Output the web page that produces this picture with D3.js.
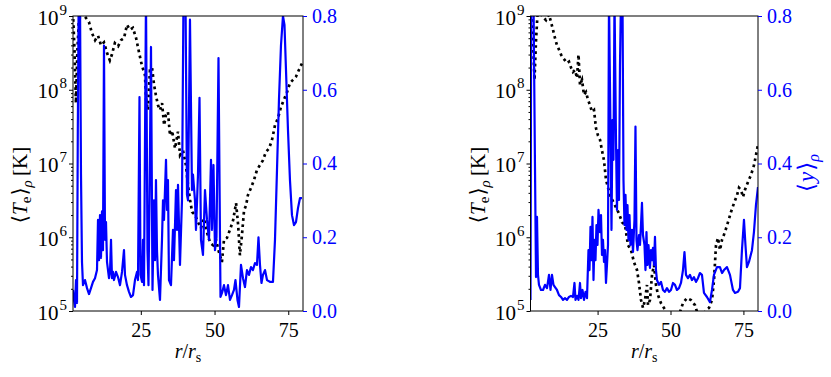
<!DOCTYPE html>
<html><head><meta charset="utf-8">
<script src="https://cdn.jsdelivr.net/npm/d3@7"></script>
<style>body{margin:0;background:#fff;} svg{display:block;}</style>
</head><body><svg id="c" width="831" height="377"></svg>
<script>
// ---------- data ----------
const rDomain = [2, 80];
const tDomain = [1e5, 1e9];
const yDomain = [0, 0.8];
const xTicks = [25, 50, 75];
const tTickExps = [5, 6, 7, 8, 9];
const yTicks = [0.0, 0.2, 0.4, 0.6, 0.8];

// left panel: <T_e>_rho  [r/r_s, K]
const leftTemp = [[2.0,1.1e9],[2.5,3.5e8],[3.0,6.6e7],[3.5,3.5e8],[4.0,8.8e8],[5.1,1.1e9],[6.4,9.4e8],[7.4,8.3e8],[8.4,5.9e8],[9.5,4.7e8],[10.5,5.4e8],[11.5,4.0e8],[12.5,4.4e8],[13.5,3.2e8],[14.5,2.5e8],[15.2,3.0e8],[16.2,4.3e8],[17.3,3.9e8],[18.3,4.7e8],[19.3,5.0e8],[20.3,7.6e8],[21.3,6.5e8],[22.3,6.9e8],[23.4,5.0e8],[24.4,3.2e8],[25.4,2.1e8],[26.4,1.6e8],[26.8,7.3e7],[27.4,5.3e7],[28.1,1.85e8],[28.8,2.0e8],[29.5,1.16e8],[30.1,8.5e7],[30.8,6.2e7],[31.5,5.3e7],[32.2,6.6e7],[32.9,3.3e7],[33.5,4.5e7],[34.2,5.0e7],[34.9,2.4e7],[35.6,2.8e7],[36.6,1.6e7],[37.6,2.7e7],[38.3,1.3e7],[39.3,1.5e7],[40.3,9.5e6],[41.0,5.1e6],[41.7,3.2e6],[42.4,2.2e6],[43.4,2.0e6],[44.4,1.6e6],[45.4,1.33e6],[46.4,1.8e6],[47.4,1.18e6],[48.5,8.4e5],[49.5,7.8e5],[50.5,9.2e5],[51.5,6.3e5],[52.5,4.6e5],[53.2,9.2e5],[54.2,9.8e5],[55.2,1.25e6],[56.3,1.7e6],[57.3,2.9e6],[58.0,1.47e6],[58.6,5.7e5],[59.3,1.07e6],[60.0,2.3e6],[60.7,2.7e6],[61.3,3.7e6],[62.4,4.7e6],[63.4,6.0e6],[64.4,8.2e6],[65.4,9.5e6],[66.4,1.1e7],[67.4,1.43e7],[68.5,1.6e7],[69.5,2.1e7],[70.5,3.3e7],[71.5,4.1e7],[72.5,5.8e7],[73.5,7.3e7],[74.6,9.3e7],[75.6,1.24e8],[76.6,1.36e8],[77.6,1.5e8],[78.6,1.85e8],[79.7,2.3e8]];

// left panel: <y>_rho
const leftY = [[2.0,0.057],[2.34,0.030],[2.68,0.011],[3.02,0.084],[3.36,0.022],[3.63,0.49],[3.93,0.85],[4.37,0.85],[4.71,0.37],[5.05,0.133],[5.39,0.07],[6.07,0.084],[6.75,0.062],[7.43,0.046],[8.10,0.062],[8.78,0.079],[9.46,0.089],[10.14,0.111],[10.48,0.247],[10.82,0.138],[11.16,0.26],[11.49,0.144],[11.83,0.27],[12.17,0.165],[12.51,0.72],[12.85,0.193],[13.19,0.241],[13.53,0.133],[13.87,0.111],[14.21,0.089],[14.55,0.106],[14.89,0.193],[15.22,0.089],[15.56,0.106],[15.90,0.084],[16.58,0.106],[17.26,0.092],[17.94,0.07],[18.62,0.106],[19.29,0.165],[19.63,0.098],[20.31,0.07],[20.99,0.052],[21.67,0.038],[22.35,0.043],[23.02,0.084],[23.70,0.106],[24.04,0.084],[24.55,0.58],[24.89,0.098],[25.40,0.079],[25.74,0.193],[26.08,0.07],[26.75,0.85],[27.26,0.165],[27.60,0.07],[27.94,0.30],[28.45,0.716],[28.96,0.057],[29.47,0.30],[29.81,0.138],[30.14,0.355],[30.48,0.165],[30.82,0.098],[31.50,0.030],[32.18,0.193],[32.52,0.30],[32.86,0.247],[33.54,0.41],[33.87,0.274],[34.21,0.355],[34.55,0.084],[35.23,0.07],[35.91,0.22],[36.25,0.138],[36.93,0.328],[37.27,0.22],[37.61,0.342],[38.28,0.125],[38.96,0.30],[39.47,0.85],[40.15,0.85],[40.66,0.315],[41.0,0.30],[41.67,0.79],[42.35,0.328],[42.69,0.37],[43.37,0.30],[43.71,0.22],[44.39,0.37],[44.90,0.578],[45.40,0.193],[46.08,0.152],[46.76,0.328],[47.44,0.247],[48.12,0.193],[48.80,0.41],[49.13,0.22],[49.64,0.396],[50.15,0.165],[50.66,0.20],[51.34,0.686],[52.02,0.038],[52.53,0.049],[53.2,0.07],[53.88,0.043],[54.56,0.07],[55.24,0.030],[55.92,0.043],[56.59,0.057],[57.10,0.084],[57.78,0.030],[58.29,0.011],[58.97,0.125],[59.65,0.089],[60.32,0.065],[61.0,0.111],[61.68,0.098],[62.36,0.119],[63.04,0.111],[63.72,0.130],[64.39,0.125],[64.90,0.20],[65.41,0.125],[65.92,0.076],[66.43,0.098],[67.11,0.111],[67.79,0.084],[68.80,0.079],[69.82,0.079],[70.50,0.193],[71.18,0.382],[71.85,0.572],[72.53,0.72],[73.21,0.80],[73.72,0.776],[74.23,0.654],[74.91,0.49],[75.58,0.355],[76.26,0.26],[76.94,0.233],[77.62,0.241],[78.30,0.279],[78.97,0.306],[79.65,0.306]];

// right panel: <T_e>_rho
const rightTemp = [[2.17,1.1e9],[2.86,4.7e8],[3.37,1.36e8],[3.89,4.7e8],[4.40,1.05e9],[5.26,1.1e9],[6.29,9.7e8],[7.32,8.8e8],[8.34,1.05e9],[9.03,8.3e8],[9.71,6.5e8],[10.40,5.0e8],[11.08,4.0e8],[11.77,3.5e8],[12.46,3.0e8],[13.14,2.7e8],[13.83,2.5e8],[14.51,2.3e8],[15.20,2.4e8],[15.88,2.0e8],[16.57,1.74e8],[17.26,1.85e8],[17.94,1.44e8],[18.46,3.0e8],[18.97,1.16e8],[19.66,1.36e8],[20.34,8.5e7],[21.03,9.3e7],[21.72,7.3e7],[22.40,6.2e7],[23.09,5.0e7],[23.77,5.3e7],[24.46,3.0e7],[25.14,2.4e7],[25.83,2.1e7],[26.51,1.5e7],[27.20,1.1e7],[27.89,6.0e6],[29.26,3.7e6],[30.97,2.7e6],[32.34,2.1e6],[33.37,1.6e6],[34.40,1.47e6],[35.43,7.8e5],[36.46,6.7e5],[37.48,4.6e5],[38.51,3.6e5],[39.20,2.4e5],[39.89,1.41e5],[40.57,1.1e5],[41.26,1.41e5],[41.94,2.25e5],[42.29,1.2e5],[42.97,1.41e5],[43.66,3.1e5],[44.34,4.2e5],[45.03,2.25e5],[45.71,1.65e5],[46.74,1.28e5],[47.77,1.1e5],[48.80,9.4e4],[49.82,8.5e4],[51.54,8.0e4],[53.25,9.7e4],[54.28,1.28e5],[55.65,1.5e5],[57.02,1.41e5],[58.39,1.2e5],[59.77,8.0e4],[61.14,8.0e4],[62.17,1.03e5],[63.20,1.1e5],[64.23,1.41e5],[64.91,2.6e5],[65.60,7.8e5],[66.28,9.8e5],[66.97,6.7e5],[67.65,9.2e5],[68.68,1.18e6],[69.71,1.6e6],[70.74,2.2e6],[71.77,2.9e6],[72.80,3.7e6],[73.48,4.7e6],[74.17,4.4e6],[74.85,3.5e6],[75.54,4.4e6],[76.57,5.6e6],[77.60,7.0e6],[78.63,9.5e6],[79.31,1.3e7],[80.0,1.8e7]];

// right panel: <y>_rho
const rightY = [[2.00,0.030],[2.24,0.85],[3.03,0.85],[3.54,0.39],[3.89,0.092],[4.23,0.255],[4.57,0.098],[4.91,0.071],[5.60,0.057],[6.29,0.057],[6.97,0.071],[7.66,0.062],[8.34,0.098],[8.86,0.057],[9.37,0.098],[9.88,0.071],[10.40,0.065],[11.08,0.057],[11.77,0.043],[12.46,0.038],[13.14,0.030],[13.83,0.035],[14.51,0.030],[15.20,0.038],[15.88,0.041],[16.57,0.038],[17.08,0.076],[17.43,0.030],[17.94,0.041],[18.46,0.030],[18.97,0.076],[19.31,0.035],[19.83,0.057],[20.34,0.030],[20.85,0.052],[21.37,0.035],[21.88,0.165],[22.23,0.111],[22.57,0.228],[22.91,0.138],[23.25,0.255],[23.60,0.084],[23.94,0.193],[24.28,0.138],[24.62,0.233],[24.97,0.179],[25.31,0.274],[25.83,0.214],[26.17,0.260],[26.51,0.152],[26.85,0.193],[27.20,0.133],[27.54,0.165],[27.88,0.076],[28.22,0.125],[28.57,0.179],[28.91,0.85],[29.42,0.491],[29.77,0.220],[30.11,0.518],[30.45,0.410],[30.80,0.85],[31.31,0.464],[31.65,0.274],[32.00,0.436],[32.34,0.301],[32.68,0.667],[33.02,0.85],[33.54,0.85],[33.88,0.355],[34.22,0.233],[34.57,0.315],[34.91,0.220],[35.25,0.287],[35.59,0.193],[35.94,0.260],[36.28,0.179],[36.79,0.220],[37.14,0.160],[37.65,0.247],[37.99,0.50],[38.34,0.193],[38.68,0.165],[39.19,0.206],[39.54,0.179],[39.88,0.233],[40.22,0.293],[40.56,0.206],[41.08,0.179],[41.42,0.111],[41.76,0.214],[42.11,0.125],[42.45,0.179],[42.96,0.117],[43.31,0.165],[43.65,0.138],[43.99,0.171],[44.34,0.125],[44.68,0.201],[45.02,0.111],[45.36,0.084],[46.05,0.071],[46.74,0.079],[47.42,0.057],[48.11,0.052],[48.79,0.062],[49.48,0.052],[50.16,0.057],[50.85,0.076],[51.54,0.071],[52.22,0.057],[52.91,0.062],[53.59,0.076],[54.28,0.111],[54.79,0.160],[55.31,0.098],[55.99,0.089],[56.68,0.098],[57.36,0.084],[58.05,0.092],[58.73,0.079],[59.42,0.089],[60.10,0.103],[60.79,0.098],[61.48,0.049],[62.50,0.038],[63.53,0.024],[64.22,0.057],[64.90,0.098],[65.93,0.119],[66.96,0.119],[67.65,0.103],[68.33,0.111],[69.36,0.119],[70.39,0.098],[71.42,0.057],[72.10,0.049],[73.13,0.052],[73.82,0.062],[74.50,0.165],[75.19,0.247],[75.70,0.179],[76.21,0.119],[76.90,0.133],[77.93,0.165],[78.61,0.214],[79.30,0.287],[79.99,0.336]];

// ---------- drawing ----------
const FONT = '"Liberation Serif","DejaVu Serif",serif';
const BLUE = "#0000ff";
const TOP = 16, BOTTOM = 311;
const panels = [
  {x0: 73, x1: 303, temp: leftTemp, comp: leftY, showRightLabel: false},
  {x0: 530.5, x1: 758, temp: rightTemp, comp: rightY, showRightLabel: true}
];
const svg = d3.select("#c");
const defs = svg.append("defs");

panels.forEach((p, i) => {
  const x = d3.scaleLinear().domain(rDomain).range([p.x0, p.x1]);
  const yT = d3.scaleLog().domain(tDomain).range([BOTTOM, TOP]);
  const yC = d3.scaleLinear().domain(yDomain).range([BOTTOM, TOP]);
  const cid = "clip" + i;
  defs.append("clipPath").attr("id", cid).append("rect")
    .attr("x", p.x0).attr("y", TOP).attr("width", p.x1 - p.x0).attr("height", BOTTOM - TOP);

  const g = svg.append("g");
  const plot = g.append("g").attr("clip-path", `url(#${cid})`);
  plot.append("path").datum(p.temp)
    .attr("d", d3.line().x(d => x(d[0])).y(d => yT(d[1])))
    .attr("fill", "none").attr("stroke", "#000")
    .attr("stroke-width", 2.7).attr("stroke-dasharray", "2.7,3.5");
  plot.append("path").datum(p.comp)
    .attr("d", d3.line().x(d => x(d[0])).y(d => yC(d[1])))
    .attr("fill", "none").attr("stroke", BLUE)
    .attr("stroke-width", 2.2).attr("stroke-linejoin", "round");

  // frame
  g.append("rect").attr("x", p.x0).attr("y", TOP)
    .attr("width", p.x1 - p.x0).attr("height", BOTTOM - TOP)
    .attr("fill", "none").attr("stroke", "#000").attr("stroke-width", 1);

  // x axis
  const gx = g.append("g").attr("transform", `translate(0,${BOTTOM})`)
    .call(d3.axisBottom(x).tickValues(xTicks).tickSize(4).tickPadding(8));
  gx.select(".domain").remove();
  gx.attr("font-family", FONT).attr("font-size", 20);
  gx.selectAll("text").attr("fill", "#000");

  // left log axis: minor ticks
  const minor = [];
  for (let e = 5; e < 9; e++) for (let m = 2; m <= 9; m++) minor.push(m * Math.pow(10, e));
  const gm = g.append("g").attr("transform", `translate(${p.x0},0)`)
    .call(d3.axisLeft(yT).tickValues(minor).tickSize(2).tickFormat(""));
  gm.select(".domain").remove();
  // left log axis: major ticks
  const gl = g.append("g").attr("transform", `translate(${p.x0},0)`)
    .call(d3.axisLeft(yT).tickValues(tTickExps.map(e => Math.pow(10, e))).tickSize(4).tickFormat(""));
  gl.select(".domain").remove();
  gl.selectAll(".tick").each(function(d) {
    const t = d3.select(this).append("text")
      .attr("x", -6).attr("y", 8).attr("text-anchor", "end")
      .attr("font-family", FONT).attr("font-size", 21).attr("fill", "#000");
    t.append("tspan").text("10");
    t.append("tspan").attr("dx", 1).attr("dy", -10).attr("font-size", 15).text(Math.round(Math.log10(d)));
  });

  // right linear axis (blue)
  const gr = g.append("g").attr("transform", `translate(${p.x1},0)`)
    .call(d3.axisRight(yC).tickValues(yTicks).tickSize(4).tickPadding(5).tickFormat(d3.format(".1f")));
  gr.select(".domain").remove();
  gr.attr("font-family", FONT).attr("font-size", 20).attr("color", BLUE);

  // x label
  const xl = g.append("text").attr("x", (p.x0 + p.x1) / 2).attr("y", 358)
    .attr("text-anchor", "middle").attr("font-family", FONT).attr("font-size", 20).attr("fill", "#000");
  xl.append("tspan").attr("font-style", "italic").text("r");
  xl.append("tspan").text("/");
  xl.append("tspan").attr("font-style", "italic").text("r");
  xl.append("tspan").attr("dy", 4).attr("font-size", 14).text("s");

  // left y label
  const yl = g.append("text")
    .attr("transform", `translate(${p.x0 - 46},185) rotate(-90)`)
    .attr("text-anchor", "middle").attr("font-family", FONT).attr("font-size", 21).attr("fill", "#000");
  yl.append("tspan").text("\u27E8");
  yl.append("tspan").attr("font-style", "italic").text("T");
  yl.append("tspan").attr("dy", 4).attr("font-size", 15).text("e");
  yl.append("tspan").attr("dx", 1).attr("dy", -4).text("\u27E9");
  yl.append("tspan").attr("dy", 5).attr("font-size", 15).attr("font-style", "italic").text("\u03C1");
  yl.append("tspan").attr("dy", -5).text("\u2009[K]");

  // right y label
  if (p.showRightLabel) {
    const yr = g.append("text")
      .attr("transform", `translate(${p.x1 + 56},173) rotate(-90)`)
      .attr("text-anchor", "middle").attr("font-family", FONT).attr("font-size", 23).attr("fill", BLUE);
    yr.append("tspan").text("\u27E8");
    yr.append("tspan").attr("dx", 1).attr("font-style", "italic").text("y");
    yr.append("tspan").attr("dx", 1).text("\u27E9");
    yr.append("tspan").attr("dy", 5).attr("font-size", 16).attr("font-style", "italic").text("\u03C1");
  }
});
</script>
</body></html>
